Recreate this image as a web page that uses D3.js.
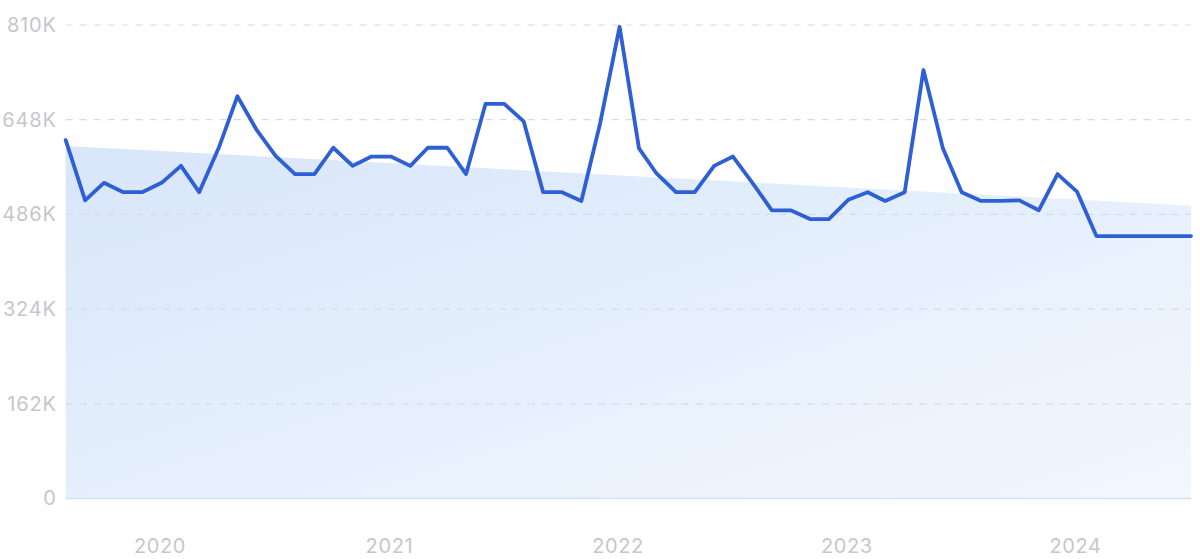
<!DOCTYPE html>
<html>
<head>
<meta charset="utf-8">
<script src="https://cdn.jsdelivr.net/npm/d3@7"></script>
<style>
  html, body { margin: 0; padding: 0; background: #ffffff; }
  svg { display: block; }
</style>
</head>
<body>
<svg id="chart" width="1200" height="559"></svg>
<script>
// ---- data ----
const startMonth = "2019-08";
const values = [
  613, 510, 540, 524, 524, 540, 569, 524, 599, 688, 630, 586,
  555, 555, 600, 569, 585, 585, 569, 600, 600, 555, 675, 675,
  645, 524, 524, 509, 642, 807, 599, 556, 524, 524, 569, 585,
  540, 493, 493, 478, 478, 511, 524, 509, 524, 733, 599, 524,
  509, 509, 510, 493, 555, 525, 449, 449, 449, 449, 449, 449
]; // thousands
const trendEnds = [603, 501]; // trend band at first / last month, thousands
const yTicks = [0, 162, 324, 486, 648, 810];
const yTickLabels = ["0", "162K", "324K", "486K", "648K", "810K"];
const xTickYears = [2020, 2021, 2022, 2023, 2024];

// ---- setup ----
const W = 1200, H = 559;
const m = { left: 65.7, right: 9, top: 25, bottom: 60.5 };
const svg = d3.select("#chart");
const parse = d3.timeParse("%Y-%m");
const t0 = parse(startMonth);
const data = values.map((v, i) => ({ date: d3.timeMonth.offset(t0, i), v }));

const x = d3.scaleTime()
  .domain([data[0].date, data[data.length - 1].date])
  .range([m.left, W - m.right]);
const y = d3.scaleLinear().domain([0, 810]).range([H - m.bottom, m.top]);

// gradient
const defs = svg.append("defs");
const grad = defs.append("linearGradient").attr("id", "fillGrad")
  .attr("x1", "0").attr("y1", "0").attr("x2", "1").attr("y2", "1");
grad.append("stop").attr("offset", "0%").attr("stop-color", "#d8e6fa");
grad.append("stop").attr("offset", "55%").attr("stop-color", "#e6f0fc");
grad.append("stop").attr("offset", "100%").attr("stop-color", "#f3f7fe");

// trend band area
const trendData = [
  { date: data[0].date, v: trendEnds[0] },
  { date: data[data.length - 1].date, v: trendEnds[1] }
];
svg.append("path")
  .datum(trendData)
  .attr("fill", "url(#fillGrad)")
  .attr("d", d3.area().x(d => x(d.date)).y0(y(0)).y1(d => y(d.v)));

// y axis labels
const yAxis = d3.axisLeft(y)
  .tickValues(yTicks)
  .tickFormat((d, i) => yTickLabels[i])
  .tickSize(0)
  .tickPadding(9);
const gy = svg.append("g").attr("transform", `translate(${m.left},0)`).call(yAxis);
gy.select(".domain").remove();
gy.selectAll("text")
  .attr("fill", "#c6c6cc")
  .style("font-family", "Inter, 'Noto Sans', sans-serif")
  .style("font-size", "20px")
  .style("letter-spacing", "0.8px");

// grid lines
svg.append("g").selectAll("line")
  .data(yTicks.filter(d => d > 0))
  .join("line")
  .attr("x1", m.left).attr("x2", W - m.right)
  .attr("y1", d => y(d)).attr("y2", d => y(d))
  .attr("stroke", "#d3dcec")
  .attr("stroke-width", 1.2)
  .attr("stroke-dasharray", "7 7");

// baseline
svg.append("line")
  .attr("x1", m.left).attr("x2", W - m.right)
  .attr("y1", y(0)).attr("y2", y(0))
  .attr("stroke", "#d3e1f6").attr("stroke-width", 1.5);

// x axis
const xAxis = d3.axisBottom(x)
  .tickValues(xTickYears.map(yr => new Date(yr, 0, 1)))
  .tickFormat(d3.timeFormat("%Y"))
  .tickSize(0)
  .tickPadding(0);
const gx = svg.append("g").attr("transform", `translate(0,${H - 6})`).call(xAxis);
gx.select(".domain").remove();
gx.selectAll("text")
  .attr("dy", "0")
  .attr("dx", "-2")
  .attr("fill", "#c6c6cc")
  .style("font-family", "Inter, 'Noto Sans', sans-serif")
  .style("font-size", "20px")
  .style("letter-spacing", "0.6px");

// line
svg.append("path")
  .datum(data)
  .attr("fill", "none")
  .attr("stroke", "#2f5fd4")
  .attr("stroke-width", 3.8)
  .attr("stroke-linejoin", "round")
  .attr("stroke-linecap", "round")
  .attr("d", d3.line().x(d => x(d.date)).y(d => y(d.v)));
</script>
</body>
</html>
